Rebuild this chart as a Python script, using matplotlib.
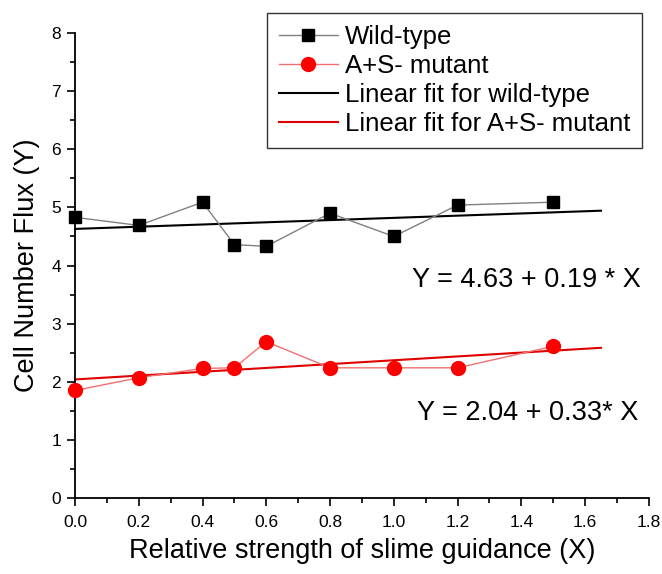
import matplotlib
matplotlib.use("Agg")
import matplotlib.pyplot as plt
import numpy as np
from matplotlib.ticker import MultipleLocator, FormatStrFormatter

plt.rcParams['font.family'] = ['Liberation Sans', 'DejaVu Sans']

x_vals = [0.0, 0.2, 0.4, 0.5, 0.6, 0.8, 1.0, 1.2, 1.5]
wild_type = [4.83, 4.69, 5.09, 4.36, 4.33, 4.90, 4.50, 5.04, 5.09]
mutant = [1.85, 2.07, 2.23, 2.24, 2.69, 2.24, 2.24, 2.24, 2.61]
fit_wt = (4.63, 0.19)
fit_mut = (2.04, 0.33)
fit_range = [0.0, 1.65]

fig = plt.figure(figsize=(6.62, 5.74), dpi=100)
ax = fig.add_axes([0.1133, 0.1324, 0.8667, 0.81])

ax.plot(x_vals, wild_type, color='#808080', lw=1.0, marker='s', ms=9,
        mfc='black', mec='black', label='Wild-type', zorder=3)
ax.plot(x_vals, mutant, color='#f07070', lw=1.0, marker='o', ms=10,
        mfc='#ff0000', mec='#ff0000', label='A+S- mutant', zorder=3)
fx = np.array(fit_range)
ax.plot(fx, fit_wt[0] + fit_wt[1] * fx, color='black', lw=1.5,
        label='Linear fit for wild-type', zorder=2)
ax.plot(fx, fit_mut[0] + fit_mut[1] * fx, color='#e00000', lw=1.5,
        label='Linear fit for A+S- mutant', zorder=2)

ax.set_xlim(0, 1.8)
ax.set_ylim(0, 8)
ax.xaxis.set_major_locator(MultipleLocator(0.2))
ax.xaxis.set_minor_locator(MultipleLocator(0.1))
ax.yaxis.set_major_locator(MultipleLocator(1))
ax.yaxis.set_minor_locator(MultipleLocator(0.5))
ax.xaxis.set_major_formatter(FormatStrFormatter('%.1f'))
ax.tick_params(which='major', length=6, width=1.2, labelsize=12.5, direction='out')
ax.tick_params(which='minor', length=3.5, width=1.2, direction='out')
ax.tick_params(axis='x', which='major', pad=6)
ax.tick_params(axis='y', which='major', pad=4)
ax.spines['top'].set_visible(False)
ax.spines['right'].set_visible(False)
ax.spines['left'].set_linewidth(1.3)
ax.spines['bottom'].set_linewidth(1.3)
for l in ax.lines:
    l.set_clip_on(False)

ax.set_xlabel('Relative strength of slime guidance (X)', fontsize=19.5, labelpad=6)
ax.set_ylabel('Cell Number Flux (Y)', fontsize=19.5, labelpad=8)

ax.text(1.057, 3.63, 'Y = 4.63 + 0.19 * X', fontsize=19.5, ha='left', va='baseline')
ax.text(1.073, 1.34, 'Y = 2.04 + 0.33* X', fontsize=19.5, ha='left', va='baseline')

leg = ax.legend(loc='upper right', bbox_to_anchor=(0.988, 1.043), fontsize=18.5,
                frameon=True, fancybox=False, edgecolor='black',
                handlelength=2.3, handletextpad=0.28, labelspacing=0.2,
                borderpad=0.45, borderaxespad=0)
leg.get_frame().set_linewidth(1.0)

fig.savefig('out.png', dpi=100)
